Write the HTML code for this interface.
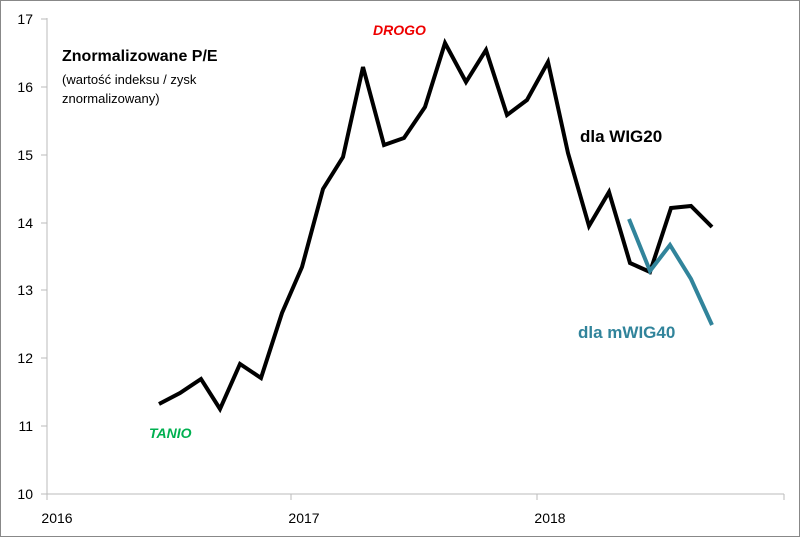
<!DOCTYPE html>
<html><head><style>
body{margin:0;background:#fff;}
svg{display:block;font-family:"Liberation Sans",sans-serif;}
</style></head><body>
<svg width="800" height="537" viewBox="0 0 800 537">
<rect x="0.5" y="0.5" width="799" height="536" fill="#fff" stroke="#888"/>
<line x1="47" y1="18" x2="47" y2="494" stroke="#bbb"/>
<line x1="41" y1="494" x2="784" y2="494" stroke="#bbb"/>
<g stroke="#bbb">
<line x1="41" y1="19" x2="47" y2="19"/><line x1="41" y1="87" x2="47" y2="87"/><line x1="41" y1="155" x2="47" y2="155"/><line x1="41" y1="223" x2="47" y2="223"/><line x1="41" y1="290" x2="47" y2="290"/><line x1="41" y1="358" x2="47" y2="358"/><line x1="41" y1="426" x2="47" y2="426"/>
<line x1="47" y1="494" x2="47" y2="500"/><line x1="291" y1="494" x2="291" y2="500"/><line x1="537" y1="494" x2="537" y2="500"/><line x1="784" y1="494" x2="784" y2="500"/>
</g>
<g font-size="14" fill="#000" text-anchor="end">
<text x="33" y="24">17</text><text x="33" y="92">16</text><text x="33" y="160">15</text><text x="33" y="228">14</text><text x="33" y="295">13</text><text x="33" y="363">12</text><text x="33" y="431">11</text><text x="33" y="499">10</text>
</g>
<g font-size="14" fill="#000" text-anchor="middle">
<text x="57" y="523">2016</text><text x="304" y="523">2017</text><text x="550" y="523">2018</text>
</g>
<polyline fill="none" stroke="#000" stroke-width="4" stroke-linejoin="miter" points="159,404 180,393 201,379 220,409 240,364 261,378 282,313 302,267 323,189 343,157 363,67 384,145 404,138 425,107 445,43 466,82 486,50 507,115 527,100 548,62 568,153 589,226 609,192 630,263 650,272 671,208 691,206 712,227"/>
<polyline fill="none" stroke="#31849b" stroke-width="4" points="629,219 650,271 670,245 691,279 712,325"/>
<text x="62" y="61" font-size="16" font-weight="bold">Znormalizowane P/E</text>
<text x="62" y="84" font-size="13">(wartość indeksu / zysk</text>
<text x="62" y="103" font-size="13">znormalizowany)</text>
<text x="373" y="35" font-size="14" font-weight="bold" font-style="italic" fill="#e00">DROGO</text>
<text x="149" y="438" font-size="14" font-weight="bold" font-style="italic" fill="#00b050">TANIO</text>
<text x="580" y="142" font-size="17" font-weight="bold">dla WIG20</text>
<text x="578" y="338" font-size="17" font-weight="bold" fill="#31849b">dla mWIG40</text>
</svg>
</body></html>
